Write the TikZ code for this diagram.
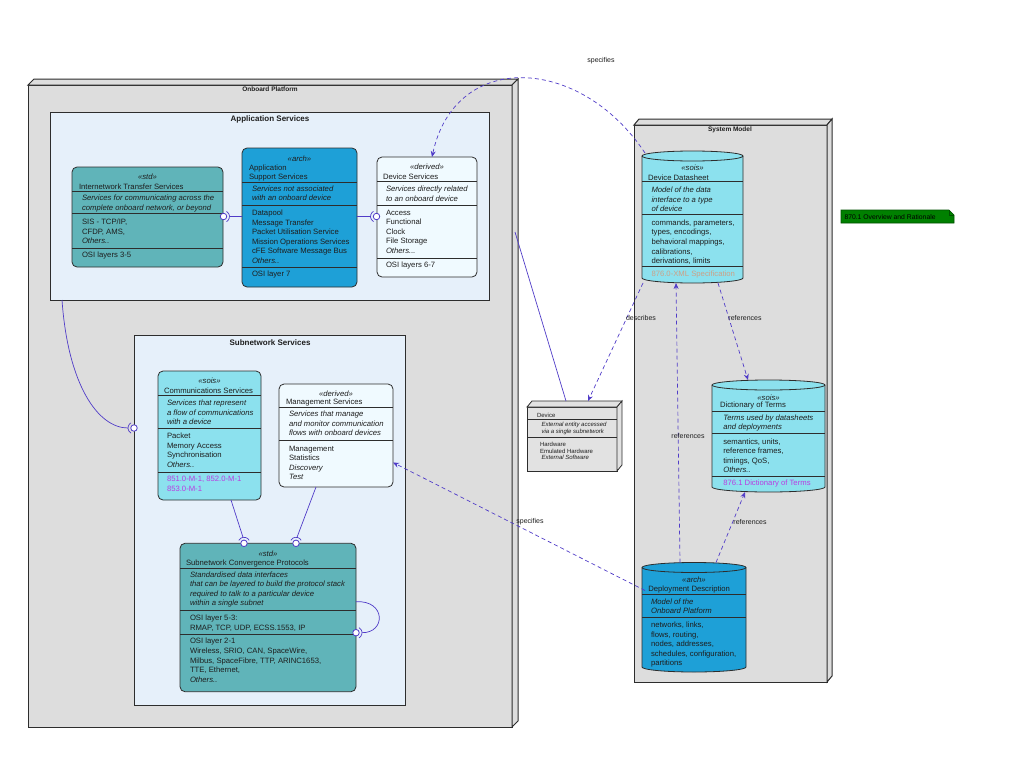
\documentclass[tikz,border=0pt]{standalone}
\usepackage{fontspec}
\setmainfont{Liberation Sans}
\usetikzlibrary{arrows.meta,calc}
\definecolor{edgec}{RGB}{80,60,200}
\definecolor{bord}{RGB}{45,45,45}
\definecolor{tealc}{RGB}{96,180,185}
\definecolor{archc}{RGB}{30,160,215}
\definecolor{soisc}{RGB}{140,225,238}
\definecolor{derc}{RGB}{240,250,255}
\definecolor{framec}{RGB}{230,240,250}
\definecolor{grayc}{RGB}{221,221,221}
\definecolor{devc}{RGB}{226,226,226}
\definecolor{txtc}{RGB}{30,30,30}
\definecolor{magc}{RGB}{185,60,225}
\definecolor{tanc}{RGB}{205,160,135}
\definecolor{notec}{RGB}{0,128,0}
\definecolor{notebd}{RGB}{0,80,0}
\begin{document}
\begin{tikzpicture}[x=1pt,y=-1pt,
  every node/.style={inner sep=0pt, outer sep=0pt, text=txtc},
  txl/.style={font=\fontsize{7.7}{9.5}\selectfont, align=left, anchor=west},
  txi/.style={font=\fontsize{7.7}{9.5}\selectfont\itshape, align=left, anchor=west},
  stereo/.style={font=\fontsize{7.7}{9.5}\selectfont\itshape, anchor=center},
  clsbox/.style={draw=bord, line width=0.8pt, rounded corners=5pt, anchor=north west},
  grp/.style={draw=bord, line width=0.9pt, fill=framec, anchor=north west},
  grptitle/.style={font=\fontsize{8}{9}\selectfont\bfseries, anchor=center},
  boxtitle/.style={font=\fontsize{6.5}{7}\selectfont\bfseries, anchor=center},
  threed/.style={draw=bord, line width=1pt, fill=grayc, anchor=north west},
  sepl/.style={draw=bord, line width=0.7pt},
  wire/.style={draw=edgec, line width=0.7pt},
  deparr/.style={wire, dash pattern=on 4pt off 3pt, -{Stealth[length=6pt,width=5pt]}},
  lolly/.style={circle, draw=edgec, fill=white, line width=0.8pt, minimum size=6.5pt},
  elab/.style={font=\fontsize{7}{8}\selectfont, anchor=center},
  tiny/.style={font=\fontsize{6}{7}\selectfont, align=left, anchor=west},
  tinyi/.style={font=\fontsize{6}{7.3}\selectfont\itshape, align=left, anchor=west},
  cylbody/.style={draw=bord, line width=0.8pt}
]
\useasboundingbox[fill=white] (0,0) rectangle (1024,768);

% ---------------- Onboard Platform (3D node)
\node[threed, minimum width=484pt, minimum height=642pt] (obp) at (28,85) {};
\draw[bord, line width=1pt, fill=grayc] (obp.north west) -- ++(6,-6) -- ++(484,0) -- (obp.north east) -- cycle;
\draw[bord, line width=1pt, fill=grayc] (obp.north east) -- ++(6,-6) -- ++(0,642) -- (obp.south east) -- cycle;
\node[boxtitle] (obpt) at (270,89.5) {Onboard Platform};

% ---------------- System Model (3D node)
\node[threed, minimum width=193pt, minimum height=557pt] (sysm) at (634,125) {};
\draw[bord, line width=1pt, fill=grayc] (sysm.north west) -- ++(5,-6) -- ++(193,0) -- (sysm.north east) -- cycle;
\draw[bord, line width=1pt, fill=grayc] (sysm.north east) -- ++(5,-6) -- ++(0,557) -- (sysm.south east) -- cycle;
\node[boxtitle] (sysmt) at (730,129.5) {System Model};

% ---------------- Device (3D node)
\node[threed, fill=devc, line width=0.8pt, minimum width=90pt, minimum height=64pt] (dev) at (527,407) {};
\draw[bord, line width=0.8pt, fill=devc] (dev.north west) -- ++(5,-6) -- ++(90,0) -- (dev.north east) -- cycle;
\draw[bord, line width=0.8pt, fill=devc] (dev.north east) -- ++(5,-6) -- ++(0,64) -- (dev.south east) -- cycle;
\node[tiny] (devt) at (537,415.7) {Device};
\draw[sepl] (527,419.5) -- (617,419.5);
\node[tinyi] (devd) at (541.5,428.7) {External entity accessed\\via a single subnetwork};
\draw[sepl] (527,437.7) -- (617,437.7);
\node[tiny, font=\fontsize{6}{6.7}\selectfont] (devc) at (540,451) {Hardware\\Emulated Hardware\\\textit{ External Software}};

% ---------------- Application Services frame
\node[grp, minimum width=439pt, minimum height=188pt] (asv) at (50,112) {};
\node[grptitle] (asvt) at (270,119.5) {Application Services};

% Internetwork Transfer Services
\node[clsbox, fill=tealc, minimum width=151pt, minimum height=100pt] (its) at (72,167) {};
\node[stereo] (its-s) at (147.5,176.7) {«std»};
\node[txl] (its-t) at (79,186.7) {Internetwork Transfer Services};
\draw[sepl] (72,191.7) -- (223,191.7);
\node[txi] (its-d) at (82,203.7) {Services for communicating across the\\complete onboard network, or beyond};
\draw[sepl] (72,213.3) -- (223,213.3);
\node[txl] (its-c) at (82,231.7) {SIS - TCP/IP,\\CFDP, AMS,\\\textit{Others..}};
\draw[sepl] (72,248.3) -- (223,248.3);
\node[txl] (its-o) at (82,256) {OSI layers 3-5};

% Application Support Services
\node[clsbox, fill=archc, minimum width=115pt, minimum height=139pt] (aps) at (242,148) {};
\node[stereo] (aps-s) at (299.5,159) {«arch»};
\node[txl] (aps-t) at (249,172.8) {Application\\Support Services};
\draw[sepl] (242,182.3) -- (357,182.3);
\node[txi] (aps-d) at (252,193.3) {Services not associated\\with an onboard device};
\draw[sepl] (242,205.7) -- (357,205.7);
\node[txl] (aps-c) at (252,236.7) {Datapool\\Message Transfer\\Packet Utilisation Service\\Mission Operations Services\\cFE Software Message Bus\\\textit{Others..}};
\draw[sepl] (242,267.3) -- (357,267.3);
\node[txl] (aps-o) at (252,274.7) {OSI layer 7};

% Device Services
\node[clsbox, fill=derc, minimum width=100pt, minimum height=120pt] (dvs) at (377,157) {};
\node[stereo] (dvs-s) at (427,166.7) {«derived»};
\node[txl] (dvs-t) at (383,176.7) {Device Services};
\draw[sepl] (377,181.7) -- (477,181.7);
\node[txi] (dvs-d) at (386,193.8) {Services directly related\\to an onboard device};
\draw[sepl] (377,205) -- (477,205);
\node[txl] (dvs-c) at (386,231.5) {Access\\Functional\\Clock\\File Storage\\\textit{Others...}};
\draw[sepl] (377,258.3) -- (477,258.3);
\node[txl] (dvs-o) at (386,265.7) {OSI layers 6-7};

% ---------------- Subnetwork Services frame
\node[grp, minimum width=271pt, minimum height=370pt] (snv) at (134,335) {};
\node[grptitle] (snvt) at (270,342.5) {Subnetwork Services};

% Communications Services
\node[clsbox, fill=soisc, minimum width=103pt, minimum height=129pt] (cms) at (158,371) {};
\node[stereo] (cms-s) at (209.5,381) {«sois»};
\node[txl] (cms-t) at (164,390.7) {Communications Services};
\draw[sepl] (158,395.7) -- (261,395.7);
\node[txi] (cms-d) at (167,412.6) {Services that represent\\a flow of communications\\with a device};
\draw[sepl] (158,428.3) -- (261,428.3);
\node[txl] (cms-c) at (167,450.4) {Packet\\Memory Access\\Synchronisation\\\textit{Others..}};
\draw[sepl] (158,472.3) -- (261,472.3);
\node[txl, text=magc] (cms-r) at (167,483.8) {851.0-M-1, 852.0-M-1\\853.0-M-1};

% Management Services
\node[clsbox, fill=derc, minimum width=114pt, minimum height=103pt] (mgs) at (279,384) {};
\node[stereo] (mgs-s) at (336,393.7) {«derived»};
\node[txl] (mgs-t) at (286,402.3) {Management Services};
\draw[sepl] (279,407.3) -- (393,407.3);
\node[txi] (mgs-d) at (289,423.5) {Services that manage\\and monitor communication\\flows with onboard devices};
\draw[sepl] (279,440) -- (393,440);
\node[txl] (mgs-c) at (289,462.7) {Management\\Statistics\\\textit{Discovery}\\\textit{Test}};

% Subnetwork Convergence Protocols
\node[clsbox, fill=tealc, minimum width=176pt, minimum height=148.4pt] (scp) at (180,543.3) {};
\node[stereo] (scp-s) at (268,554) {«std»};
\node[txl] (scp-t) at (186,563.3) {Subnetwork Convergence Protocols};
\draw[sepl] (180,568.3) -- (356,568.3);
\node[txi] (scp-d) at (190,589.5) {Standardised data interfaces\\that can be layered to build the protocol stack\\required to talk to a particular device\\within a single subnet};
\draw[sepl] (180,610.7) -- (356,610.7);
\node[txl] (scp-c) at (190,623.2) {OSI layer 5-3:\\RMAP, TCP, UDP, ECSS.1553, IP};
\draw[sepl] (180,634.3) -- (356,634.3);
\node[txl, font=\fontsize{7.7}{9.8}\selectfont] (scp-e) at (190,660.4) {OSI layer 2-1\\Wireless, SRIO, CAN, SpaceWire,\\Milbus, SpaceFibre, TTP, ARINC1653,\\TTE, Ethernet,\\\textit{Others..}};

% ---------------- Device Datasheet (cylinder)
\path[cylbody, fill=soisc] (642,156) -- (642,278) arc[start angle=180, end angle=360, x radius=50.5pt, y radius=5pt] -- (743,156) arc[start angle=0, end angle=180, x radius=50.5pt, y radius=5pt] -- cycle;
\draw[cylbody] (642,156) arc[start angle=180, end angle=360, x radius=50.5pt, y radius=5pt];
\node[anchor=north west, minimum width=101pt, minimum height=132pt] (dds) at (642,151) {};
\node[stereo] (dds-s) at (692.5,167.3) {«sois»};
\node[txl] (dds-t) at (648,177.7) {Device Datasheet};
\draw[sepl] (642,181.7) -- (743,181.7);
\node[txi] (dds-d) at (651.5,199.3) {Model of the data\\interface to a type\\of device};
\draw[sepl] (642,214) -- (743,214);
\node[txl] (dds-c) at (651.5,242.2) {commands, parameters,\\types, encodings,\\behavioral mappings,\\calibrations,\\derivations, limits};
\draw[sepl] (642,266.7) -- (743,266.7);
\node[txl, text=tanc] (dds-r) at (651.5,275) {876.0-XML Specification};

% ---------------- Dictionary of Terms (cylinder)
\path[cylbody, fill=soisc] (712,385) -- (712,487) arc[start angle=180, end angle=360, x radius=56.5pt, y radius=5pt] -- (825,385) arc[start angle=0, end angle=180, x radius=56.5pt, y radius=5pt] -- cycle;
\draw[cylbody] (712,385) arc[start angle=180, end angle=360, x radius=56.5pt, y radius=5pt];
\node[anchor=north west, minimum width=113pt, minimum height=112pt] (dot) at (712,380) {};
\node[stereo] (dot-s) at (768.5,397.3) {«sois»};
\node[txl] (dot-t) at (720,406) {Dictionary of Terms};
\draw[sepl] (712,411.7) -- (825,411.7);
\node[txi] (dot-d) at (723.3,423) {Terms used by datasheets\\and deployments};
\draw[sepl] (712,433.3) -- (825,433.3);
\node[txl] (dot-c) at (723.3,455.9) {semantics, units,\\reference frames,\\timings, QoS,\\\textit{Others..}};
\draw[sepl] (712,476.7) -- (825,476.7);
\node[txl, text=magc] (dot-r) at (723.3,484) {876.1 Dictionary of Terms};

% ---------------- Deployment Description (cylinder)
\path[cylbody, fill=archc] (642,567.5) -- (642,667) arc[start angle=180, end angle=360, x radius=52pt, y radius=5pt] -- (746,567.5) arc[start angle=0, end angle=180, x radius=52pt, y radius=5pt] -- cycle;
\draw[cylbody] (642,567.5) arc[start angle=180, end angle=360, x radius=52pt, y radius=5pt];
\node[anchor=north west, minimum width=104pt, minimum height=109.5pt] (dpd) at (642,562.5) {};
\node[stereo] (dpd-s) at (694,580) {«arch»};
\node[txl] (dpd-t) at (648.3,589.7) {Deployment Description};
\draw[sepl] (642,594.3) -- (746,594.3);
\node[txi] (dpd-d) at (651,606.3) {Model of the\\Onboard Platform};
\draw[sepl] (642,617) -- (746,617);
\node[txl] (dpd-c) at (651,644.7) {networks, links,\\flows, routing,\\nodes, addresses,\\schedules, configuration,\\partitions};

% ---------------- Note
\path[draw=notebd, line width=0.6pt, fill=notec] (841,210) -- (949,210) -- (954,215) -- (954,223) -- (841,223) -- cycle;
\draw[notebd, line width=0.6pt] (949,210) -- (949,215) -- (954,215);
\node[font=\fontsize{6.8}{7}\selectfont, anchor=west, text=black] (note) at (844.5,217) {870.1 Overview and Rationale};

% ---------------- Ball and socket connectors
\node[lolly] (b1) at ($(its.north east)+(0.5,49.5)$) {};
\draw[wire] ($(b1)+(6,0)$) -- (aps.west |- b1);
\draw[wire] ($(b1)+(-60:6pt)$) arc[start angle=-60, end angle=60, radius=6pt];

\node[lolly] (b2) at ($(dvs.north west)+(-0.5,59.5)$) {};
\draw[wire] (aps.east |- b2) -- ($(b2)+(-6,0)$);
\draw[wire] ($(b2)+(120:6pt)$) arc[start angle=120, end angle=240, radius=6pt];

\node[lolly] (b3) at ($(scp.north west)+(64,0)$) {};
\draw[wire] ($(cms.south)+(21.5,0)$) -- ($(b3)+(-1,-6)$);
\draw[wire] ($(b3)+(30:6pt)$) arc[start angle=30, end angle=150, radius=6pt];

\node[lolly] (b4) at ($(scp.north west)+(116,0)$) {};
\draw[wire] ($(mgs.south)+(-20,0)$) -- ($(b4)+(1,-6)$);
\draw[wire] ($(b4)+(30:6pt)$) arc[start angle=30, end angle=150, radius=6pt];

\node[lolly] (b5) at ($(scp.north east)+(0,89.4)$) {};
\draw[wire] ($(scp.north east)+(0,58.4)$) .. controls (386,600) and (386,633) .. ($(b5)+(6,0)$);
\draw[wire] ($(b5)+(-60:6pt)$) arc[start angle=-60, end angle=60, radius=6pt];

\node[lolly] (b6) at ($(snv.north west)+(0,93)$) {};
\draw[wire] ($(asv.south west)+(12,0)$) .. controls (68,385) and (98,428) .. ($(b6)+(-6,0)$);
\draw[wire] ($(b6)+(120:6pt)$) arc[start angle=120, end angle=240, radius=6pt];

% Device to Onboard Platform
\draw[wire] ($(dev.north)+(-6,-6)$) -- ($(obp.north east)+(3,147)$);

% ---------------- Dependencies
\draw[deparr] ($(dds.north west)+(3,2)$) .. controls (580,55) and (455,50) .. ($(dvs.north)+(5,0)$);
\node[elab] (l1) at (601,60.5) {specifies};
\draw[deparr] ($(dds.south west)+(1,0)$) -- ($(dev.north)+(16,-6)$);
\node[elab] (l2) at (641,318) {describes};
\draw[deparr] ($(dds.south)+(25.5,0)$) -- ($(dot.north)+(-20.5,0)$);
\node[elab] (l3) at (745,318) {references};
\draw[deparr] ($(dpd.north)+(-14,0)$) -- ($(dds.south)+(-16.5,0)$);
\node[elab] (l4) at (688,436) {references};
\draw[deparr] ($(dpd.north)+(22,0)$) -- ($(dot.south)+(-23.5,0)$);
\node[elab] (l5) at (750,522) {references};
\draw[deparr] ($(dpd.north west)+(3,28)$) -- ($(mgs.east)+(0,27)$);
\node[elab] (l6) at (530,522) {specifies};
\end{tikzpicture}
\end{document}
